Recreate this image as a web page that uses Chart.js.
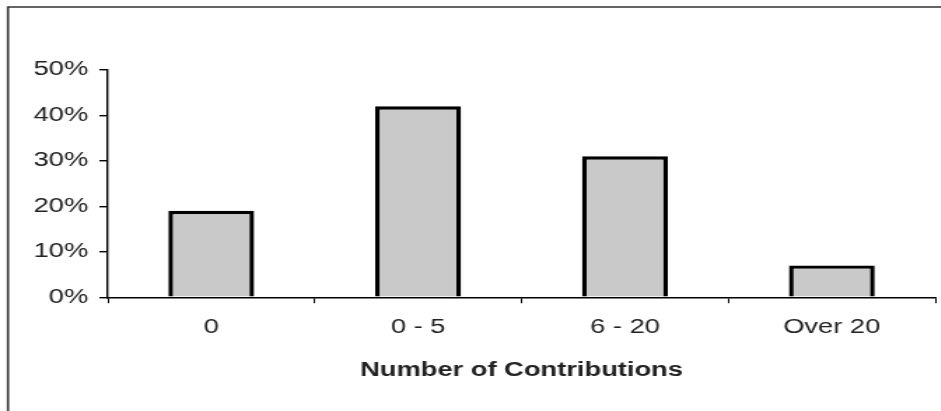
<!DOCTYPE html>
<html lang="en">
<head>
<meta charset="UTF-8">
<title>Number of Contributions</title>
<script src="https://cdn.jsdelivr.net/npm/chart.js"></script>
<style>
  html, body { margin: 0; padding: 0; background: #fff; overflow: hidden; }
  #wrap { position: relative; width: 941px; height: 411px; overflow: hidden; }
  /* the source figure is a horizontally stretched scan, so the canvas is drawn narrow and widened */
  #chartContrib { transform: scaleX(1.4); transform-origin: 0 0; }
</style>
</head>
<body>
<div id="wrap">
  <canvas id="chartContrib" width="672" height="411"></canvas>
</div>
<script>
const categories = ['0', '0 - 5', '6 - 20', 'Over 20'];
const shares = [19, 42, 31, 7];          // percent of respondents
const yTicks = [0, 10, 20, 30, 40, 50];

// frame line along the top and left edges
const framePlugin = {
  id: 'frame',
  beforeDraw(chart) {
    const ctx = chart.ctx;
    ctx.save();
    ctx.fillStyle = '#fff';
    ctx.fillRect(0, 0, chart.width, chart.height);
    ctx.strokeStyle = '#333';
    ctx.lineWidth = 1.6;
    ctx.beginPath();
    ctx.moveTo(5.7, chart.height);
    ctx.lineTo(5.7, 7);
    ctx.lineTo(chart.width, 7);
    ctx.stroke();
    ctx.restore();
  }
};

new Chart(document.getElementById('chartContrib').getContext('2d'), {
  type: 'bar',
  data: {
    labels: categories,
    datasets: [{
      data: shares,
      backgroundColor: '#c9c9c9',
      borderColor: '#000',
      borderWidth: 3.4,
      categoryPercentage: 1,
      barPercentage: 0.415
    }]
  },
  options: {
    responsive: false,
    animation: false,
    layout: { padding: { top: 70, right: 4, bottom: 29, left: 16 } },
    plugins: { legend: { display: false }, tooltip: { enabled: false } },
    scales: {
      x: {
        grid: { display: true, drawOnChartArea: false, tickLength: 6, color: '#000', lineWidth: 1 },
        border: { display: true, color: '#000', width: 1.4 },
        ticks: { color: '#222', font: { family: 'Liberation Sans', size: 19.5 }, padding: 13 },
        title: {
          display: true,
          text: 'Number of Contributions',
          color: '#222',
          font: { family: 'Liberation Sans', size: 19.5, weight: 'bold' },
          padding: { top: 6, bottom: 0 }
        }
      },
      y: {
        min: 0,
        max: 50,
        afterBuildTicks(axis) { axis.ticks = yTicks.map(v => ({ value: v })); },
        grid: { display: true, drawOnChartArea: false, tickLength: 6, color: '#000', lineWidth: 1.4 },
        border: { display: true, color: '#000', width: 1.4 },
        ticks: {
          color: '#222',
          font: { family: 'Liberation Sans', size: 19.5 },
          padding: 8,
          callback: v => v + '%'
        }
      }
    }
  },
  plugins: [framePlugin]
});
</script>
</body>
</html>
